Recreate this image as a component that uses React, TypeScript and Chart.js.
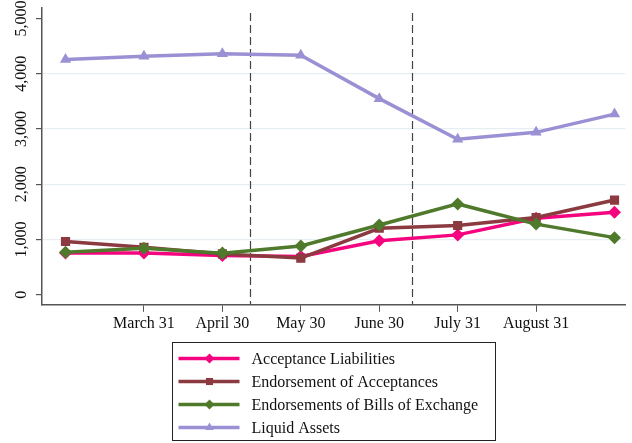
import { useEffect, useRef } from 'react';
import { Chart, registerables } from 'chart.js';
import { drawPoint } from 'chart.js/helpers';
Chart.register(...registerables);

const X_LABELS = ['', 'March 31', 'April 30', 'May 30', 'June 30', 'July 31', 'August 31', ''];
const Y_TICKS = [0, 1000, 2000, 3000, 4000, 5000];

const ACCEPTANCE = [755, 755, 710, 695, 980, 1085, 1385, 1495];
const ENDORSE_ACC = [965, 860, 740, 665, 1205, 1255, 1400, 1715];
const ENDORSE_BILLS = [770, 845, 755, 885, 1265, 1645, 1280, 1035];
const LIQUID = [4260, 4315, 4360, 4335, 3550, 2815, 2940, 3270];

// breaks drawn as dashed verticals, in x-index units
const BREAKS = [2.35, 4.42];

const FONT = '"Liberation Serif", "Times New Roman", serif';

const SERIES = [
  { label: 'Acceptance Liabilities', data: ACCEPTANCE, color: '#f5047f', style: 'rectRot' },
  { label: 'Endorsement of Acceptances', data: ENDORSE_ACC, color: '#8b3a40', style: 'rect' },
  { label: 'Endorsements of Bills of Exchange', data: ENDORSE_BILLS, color: '#4f7a2b', style: 'rectRot' },
  { label: 'Liquid Assets', data: LIQUID, color: '#9a90d4', style: 'triangle' },
];

const breakLines = {
  id: 'breakLines',
  beforeDatasetsDraw(chart: any) {
    const { ctx, chartArea, scales } = chart;
    ctx.save();
    ctx.strokeStyle = '#444';
    ctx.lineWidth = 1.2;
    ctx.setLineDash([8, 4]);
    BREAKS.forEach(b => {
      const x = Math.round(scales.x.getPixelForValue(b)) + 0.5;
      ctx.beginPath();
      ctx.moveTo(x, chartArea.top + 5);
      ctx.lineTo(x, chartArea.bottom);
      ctx.stroke();
    });
    ctx.restore();
  },
};

// y tick labels, rotated to read bottom-to-top, centred on each tick
const yLabels = {
  id: 'yLabels',
  afterDraw(chart: any) {
    const { ctx, scales } = chart;
    const y = scales.y;
    ctx.save();
    ctx.font = `16px ${FONT}`;
    ctx.fillStyle = '#111';
    ctx.textAlign = 'center';
    ctx.textBaseline = 'middle';
    Y_TICKS.forEach(v => {
      ctx.save();
      ctx.translate(y.right - 20, y.getPixelForValue(v));
      ctx.rotate(-Math.PI / 2);
      ctx.fillText(v.toLocaleString('en-US'), 0, 0);
      ctx.restore();
    });
    ctx.restore();
  },
};

const boxLegend = {
  id: 'boxLegend',
  afterDraw(chart: any) {
    const { ctx, chartArea } = chart;
    const w = 323, h = 98;
    const left = Math.round((chartArea.left + chartArea.right) / 2 - w / 2) + 0.5;
    const top = 342.5;
    ctx.save();
    ctx.strokeStyle = '#222';
    ctx.lineWidth = 1;
    ctx.strokeRect(left, top, w, h);
    ctx.font = `16px ${FONT}`;
    ctx.textBaseline = 'middle';
    ctx.fillStyle = '#111';
    chart.data.datasets.forEach((ds: any, i: number) => {
      const y = top + 16 + i * 23;
      ctx.strokeStyle = ds.borderColor;
      ctx.lineWidth = 3.5;
      ctx.setLineDash([]);
      ctx.beginPath();
      ctx.moveTo(left + 6, y);
      ctx.lineTo(left + 67, y);
      ctx.stroke();
      ctx.fillStyle = ds.borderColor;
      drawPoint(ctx, { pointStyle: ds.pointStyle, radius: 5, borderWidth: 0 } as any, left + 37, y);
      ctx.fillStyle = '#111';
      ctx.fillText(ds.label, left + 79, y + 1);
    });
    ctx.restore();
  },
};

export default function App() {
  const chartRef = useRef<HTMLCanvasElement>(null);
  const chartInstance = useRef<Chart | null>(null);

  useEffect(() => {
    if (!chartRef.current) return;
    if (chartInstance.current) chartInstance.current.destroy();

    chartInstance.current = new Chart(chartRef.current, {
      type: 'line',
      data: {
        datasets: SERIES.map((s, i) => ({
          label: s.label,
          data: s.data.map((v, j) => ({ x: j, y: v })),
          borderColor: s.color,
          backgroundColor: s.color,
          pointBackgroundColor: s.color,
          pointBorderColor: s.color,
          pointStyle: s.style as any,
          pointRadius: 6.5,
          pointBorderWidth: 0,
          borderWidth: 3.5,
          order: SERIES.length - i,
        })),
      },
      options: {
        animation: false,
        responsive: true,
        maintainAspectRatio: false,
        layout: { padding: { top: 8, right: 4, left: 36, bottom: 108 } },
        plugins: { legend: { display: false }, tooltip: { enabled: false } },
        scales: {
          x: {
            type: 'linear',
            min: -0.3,
            max: 7.14,
            afterBuildTicks: (scale: any) => {
              scale.ticks = X_LABELS.map((l, i) => ({ value: i, label: l })).filter(t => t.label);
            },
            ticks: {
              callback: (v: any) => X_LABELS[v] ?? '',
              color: '#111',
              font: { family: FONT, size: 16 },
              maxRotation: 0,
              padding: 2,
            },
            grid: { drawOnChartArea: false, tickLength: 7, color: '#555' },
            border: { color: '#555', width: 1.5 },
          },
          y: {
            min: -180,
            max: 5190,
            afterBuildTicks: (scale: any) => {
              scale.ticks = Y_TICKS.map(v => ({ value: v }));
            },
            ticks: { display: false },
            grid: {
              color: (c: any) => (c.tick && (c.tick.value === 0 || c.tick.value === 5000) ? 'rgba(0,0,0,0)' : '#e6eef1'),
              tickColor: '#555',
              tickLength: 6,
              lineWidth: 1.2,
            },
            border: { color: '#555', width: 1.5 },
          },
        },
      },
      plugins: [breakLines, yLabels, boxLegend],
    });
    return () => { chartInstance.current?.destroy(); };
  }, []);

  return (
    <div style={{ position: 'fixed', left: 0, top: 0, width: 632, height: 443, background: '#fff' }}>
      <canvas ref={chartRef} />
    </div>
  );
}
